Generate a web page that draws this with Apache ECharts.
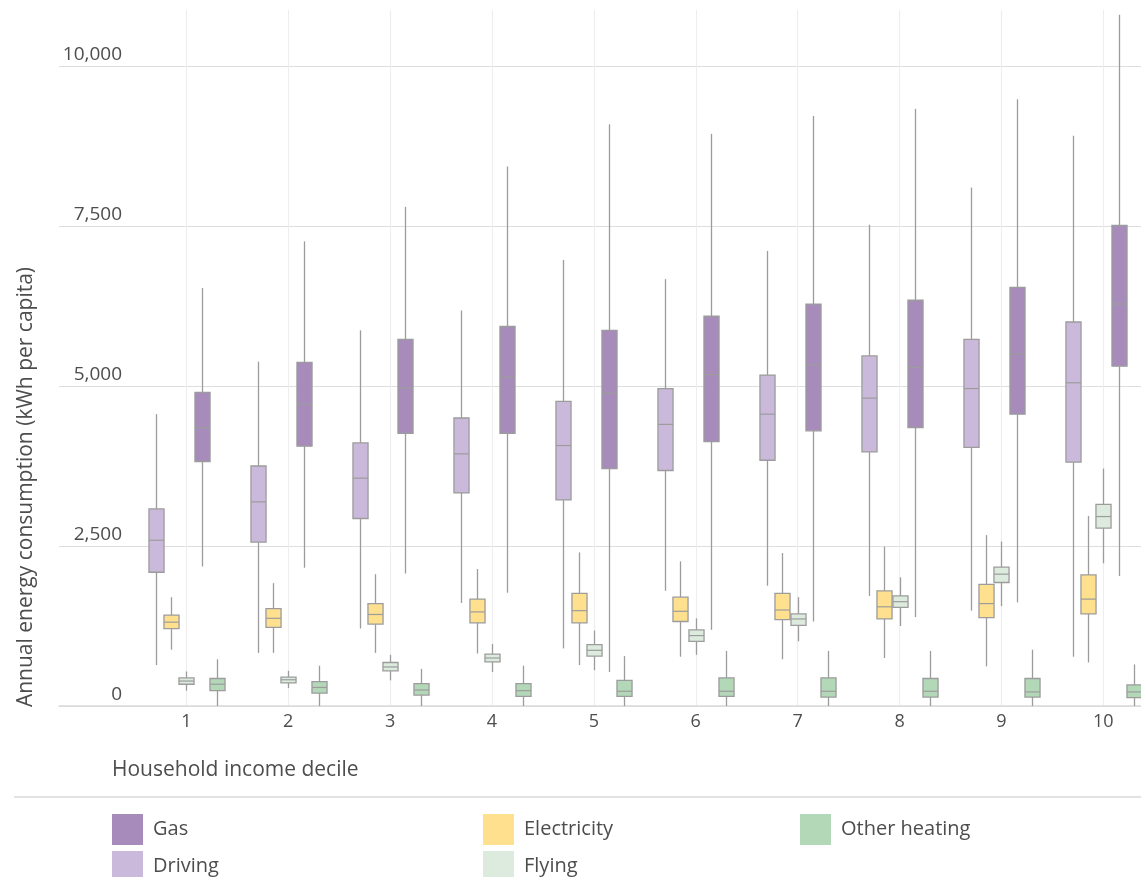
<!DOCTYPE html>
<html>
<head>
<meta charset="utf-8">
<title>Household energy consumption by income decile</title>
<script src="https://cdn.jsdelivr.net/npm/echarts@6/dist/echarts.min.js"></script>
<style>
  html, body { margin: 0; padding: 0; background: #ffffff; }
  #chart { width: 1141px; height: 877px; }
</style>
</head>
<body>
<div id="chart"></div>
<script>
// Household income deciles (x categories)
const deciles = [1, 2, 3, 4, 5, 6, 7, 8, 9, 10];

// Box statistics per decile: [lower whisker, Q1, median, Q3, upper whisker], kWh per capita
const driving = [
  [640, 2090, 2590, 3080, 4560],
  [830, 2560, 3190, 3750, 5380],
  [1210, 2930, 3560, 4110, 5870],
  [1610, 3330, 3940, 4500, 6180],
  [900, 3220, 4070, 4760, 6970],
  [1800, 3680, 4400, 4960, 6670],
  [1880, 3840, 4560, 5170, 7110],
  [1720, 3970, 4810, 5470, 7520],
  [1490, 4040, 4960, 5730, 8100],
  [770, 3810, 5050, 6000, 8910]
];
const electricity = [
  [880, 1210, 1310, 1420, 1700],
  [830, 1230, 1370, 1520, 1920],
  [830, 1280, 1430, 1600, 2060],
  [820, 1300, 1470, 1670, 2140],
  [640, 1300, 1490, 1760, 2400],
  [770, 1320, 1480, 1700, 2260],
  [730, 1350, 1500, 1760, 2390],
  [750, 1360, 1550, 1800, 2490],
  [620, 1380, 1600, 1900, 2670],
  [680, 1440, 1670, 2050, 2970]
];
const flying = [
  [240, 340, 390, 440, 540],
  [280, 360, 410, 450, 550],
  [400, 550, 610, 680, 800],
  [530, 690, 750, 810, 970],
  [560, 780, 870, 960, 1180],
  [800, 1010, 1100, 1190, 1370],
  [1010, 1260, 1360, 1440, 1700],
  [1250, 1540, 1630, 1720, 2010],
  [1560, 1930, 2060, 2170, 2570],
  [2230, 2780, 2960, 3150, 3710]
];
const gas = [
  [2180, 3820, 4350, 4900, 6530],
  [2160, 4060, 4710, 5370, 7260],
  [2070, 4260, 4970, 5730, 7800],
  [1770, 4260, 5140, 5930, 8430],
  [530, 3710, 4890, 5870, 9090],
  [1190, 4130, 5180, 6090, 8940],
  [1320, 4300, 5330, 6280, 9220],
  [1390, 4350, 5290, 6340, 9330],
  [1620, 4560, 5500, 6540, 9480],
  [2030, 5310, 6280, 7510, 10800]
];
const otherHeating = [
  [0, 240, 340, 430, 730],
  [0, 200, 290, 380, 630],
  [0, 170, 250, 350, 580],
  [0, 150, 240, 350, 630],
  [0, 150, 230, 400, 780],
  [0, 150, 230, 440, 860],
  [0, 140, 230, 440, 860],
  [0, 140, 230, 430, 860],
  [0, 140, 220, 430, 880],
  [0, 130, 220, 330, 650]
];

// Y-axis tick values
const yTicks = [0, 2500, 5000, 7500, 10000];

// Series in the order they sit inside each decile, left to right
const seriesNames = ['Driving', 'Electricity', 'Flying', 'Gas', 'Other heating'];
const seriesValues = [driving, electricity, flying, gas, otherHeating];

// Presentation
const FONT = '"Open Sans", Lato, sans-serif';
const TEXT = '#4d4d4d';
const fills = {
  'Driving': '#cbb9db',
  'Electricity': '#fee08f',
  'Flying': '#dcebde',
  'Gas': '#a78cbb',
  'Other heating': '#b3d8b8'
};
const slotOffset = { 'Driving': -0.3, 'Electricity': -0.15, 'Flying': 0, 'Gas': 0.15, 'Other heating': 0.3 };
const BOX_W = 0.148;          // box width in decile units
const EDGE = '#9c9c9c';       // box outline, whisker and median stroke

function boxRenderer(name) {
  const off = slotOffset[name];
  const fill = fills[name];
  return function (params, api) {
    const x = api.value(0) + off;
    const low = api.coord([x, api.value(1)]);
    const q1 = api.coord([x, api.value(2)]);
    const med = api.coord([x, api.value(3)]);
    const q3 = api.coord([x, api.value(4)]);
    const high = api.coord([x, api.value(5)]);
    const w = api.size([BOX_W, 0])[0];
    const cx = Math.round(low[0]) + 0.5;
    const left = cx - w / 2;
    return {
      type: 'group',
      children: [
        { type: 'line', shape: { x1: cx, y1: high[1], x2: cx, y2: q3[1] },
          style: { stroke: EDGE, lineWidth: 1.3 } },
        { type: 'line', shape: { x1: cx, y1: q1[1], x2: cx, y2: low[1] },
          style: { stroke: EDGE, lineWidth: 1.3 } },
        { type: 'rect', shape: { x: left, y: q3[1], width: w, height: q1[1] - q3[1] },
          style: { fill: fill, stroke: EDGE, lineWidth: 1.3 } },
        { type: 'line', shape: { x1: left, y1: med[1], x2: left + w, y2: med[1] },
          style: { stroke: EDGE, lineWidth: 1.2 } }
      ]
    };
  };
}

const series = seriesNames.map(function (name, i) {
  return {
    name: name,
    type: 'custom',
    renderItem: boxRenderer(name),
    itemStyle: { color: fills[name] },
    encode: { x: 0, y: [1, 2, 3, 4, 5] },
    data: deciles.map(function (d, j) { return [d].concat(seriesValues[i][j]); }),
    z: 3
  };
});

// One legend entry per slot of a three-column, two-row key
function legendEntry(name, left, top) {
  return {
    left: left,
    top: top,
    orient: 'horizontal',
    icon: 'rect',
    itemWidth: 31,
    itemHeight: 31,
    padding: 0,
    selectedMode: false,
    itemStyle: { borderWidth: 0 },
    textStyle: { fontFamily: FONT, fontSize: 20, color: TEXT, padding: [2, 0, 0, 5] },
    data: [name]
  };
}

const chart = echarts.init(document.getElementById('chart'), null, { renderer: 'canvas' });

chart.setOption({
  animation: false,
  backgroundColor: '#ffffff',
  grid: { left: 59, top: 10, right: 0, bottom: 171 },
  xAxis: {
    type: 'value',
    min: -0.25,
    max: 10.37,
    axisLine: { show: true, lineStyle: { color: '#dadada', width: 1.5 } },
    axisTick: { show: false, customValues: deciles },
    axisLabel: {
      customValues: deciles,
      margin: 7,
      fontFamily: FONT,
      fontSize: 18,
      color: TEXT
    },
    splitLine: { show: true, lineStyle: { color: '#eeeeee', width: 1.2 } }
  },
  yAxis: {
    type: 'value',
    min: 0,
    max: 10875,
    interval: 2500,
    axisLine: { show: false },
    axisTick: { show: false },
    axisLabel: {
      margin: -63,
      align: 'right',
      verticalAlign: 'bottom',
      padding: [0, 0, 2, 0],
      showMaxLabel: false,
      fontFamily: FONT,
      fontSize: 19,
      color: TEXT,
      formatter: function (v) { return yTicks.indexOf(v) >= 0 ? v.toLocaleString('en-US') : ''; }
    },
    splitLine: { show: true, showMaxLine: false, lineStyle: { color: '#dedede', width: 1.2 } }
  },
  legend: [
    legendEntry('Gas', 112, 814),
    legendEntry('Electricity', 483, 814),
    legendEntry('Other heating', 800, 814),
    legendEntry('Driving', 112, 851),
    legendEntry('Flying', 483, 851)
  ],
  graphic: [
    {
      type: 'text',
      x: 26,
      y: 487,
      rotation: Math.PI / 2,
      style: {
        text: 'Annual energy consumption (kWh per capita)',
        fill: TEXT,
        font: '21px ' + FONT,
        align: 'center',
        verticalAlign: 'middle'
      }
    },
    {
      type: 'text',
      x: 112,
      y: 770,
      style: {
        text: 'Household income decile',
        fill: TEXT,
        font: '21px ' + FONT,
        align: 'left',
        verticalAlign: 'middle'
      }
    },
    {
      type: 'rect',
      shape: { x: 14, y: 796, width: 1127, height: 2 },
      style: { fill: '#e2e2e2' }
    }
  ],
  series: series
});
</script>
</body>
</html>
